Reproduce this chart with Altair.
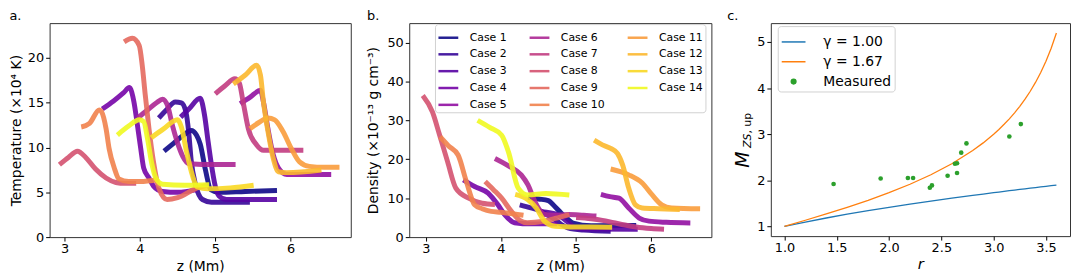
import altair as alt
import pandas as pd

FONT = "DejaVu Sans"

cases = [f"Case {i}" for i in range(1, 15)]
case_colors = ["#0d0887", "#350598", "#5702a3", "#7504a7", "#920fa2", "#ac2693", "#c23c81",
               "#d45270", "#e4695e", "#f1824d", "#f99c3c", "#fcb82e", "#f9d824", "#f0f921"]

# Panel a: temperature profiles (x 1e4 K) vs z (Mm)
temp_z = [
    [4.32, 4.45, 4.58, 4.68, 4.75, 4.80, 4.87, 4.94, 5.05, 5.4, 5.82],
    [4.25, 4.35, 4.47, 4.55, 4.61, 4.65, 4.68, 4.74, 4.83, 4.95, 5.46],
    [4.54, 4.65, 4.80, 4.86, 4.90, 4.94, 5.0, 5.05, 5.15, 5.82],
    [3.50, 3.65, 3.78, 3.86, 3.92, 3.96, 4.01, 4.05, 4.12, 4.18, 4.3, 4.5, 4.75],
    [5.33, 5.46, 5.60, 5.64, 5.70, 5.77, 5.84, 5.95, 6.2, 6.54],
    [3.97, 4.1, 4.22, 4.3, 4.37, 4.43, 4.50, 4.57, 4.65, 5.0, 5.27],
    [5.0, 5.13, 5.26, 5.32, 5.37, 5.44, 5.55, 5.64, 5.9, 6.17],
    [2.93, 3.05, 3.17, 3.28, 3.41, 3.55, 3.68, 3.8, 3.95],
    [3.79, 3.90, 3.99, 4.03, 4.07, 4.12, 4.18, 4.25, 4.36, 4.5, 4.76, 4.9],
    [3.22, 3.33, 3.46, 3.49, 3.55, 3.59, 3.66, 3.72, 3.85, 4.0, 4.24],
    [5.46, 5.58, 5.70, 5.79, 5.90, 6.01, 6.12, 6.25, 6.45, 6.65],
    [5.24, 5.4, 5.55, 5.60, 5.64, 5.70, 5.77, 5.84, 5.95, 6.41],
    [4.15, 4.3, 4.5, 4.55, 4.62, 4.70, 4.76, 4.9, 5.2, 5.51],
    [3.70, 3.85, 3.99, 4.05, 4.10, 4.16, 4.21, 4.3, 4.6, 4.92],
]
temp_T = [
    [9.6, 10.5, 11.4, 11.9, 11.4, 10.4, 7.5, 5.3, 5.0, 5.1, 5.2],
    [13.3, 14.2, 15.1, 15.0, 14.0, 11.5, 8.6, 5.8, 4.2, 3.9, 3.9],
    [13.4, 14.3, 15.5, 13.5, 11.0, 8.6, 5.7, 4.6, 4.2, 4.2],
    [14.3, 15.2, 16.1, 16.7, 15.1, 12.9, 9.9, 7.7, 6.6, 5.7, 5.1, 5.0, 5.3],
    [14.9, 15.6, 16.4, 15.1, 12.1, 9.2, 7.7, 7.0, 7.0, 7.0],
    [13.3, 14.2, 15.0, 15.4, 14.6, 12.5, 10.5, 9.0, 8.2, 8.1, 8.1],
    [16.0, 16.9, 17.7, 17.2, 15.1, 12.1, 10.3, 9.7, 9.7, 9.7],
    [8.1, 8.9, 9.6, 8.9, 7.6, 6.6, 6.1, 6.0, 6.0],
    [21.8, 22.2, 21.4, 19.2, 15.9, 12.1, 8.4, 5.5, 4.2, 4.4, 5.5, 5.8],
    [12.3, 12.7, 14.2, 14.0, 12.1, 9.9, 7.7, 6.5, 6.2, 6.2, 6.4],
    [12.1, 12.8, 13.3, 13.1, 11.8, 9.9, 8.4, 7.9, 7.8, 7.8],
    [17.1, 18.1, 19.2, 18.1, 15.1, 11.8, 8.8, 7.3, 7.2, 7.5],
    [11.1, 12.0, 13.1, 12.3, 9.5, 6.8, 5.6, 5.4, 5.5, 5.8],
    [11.4, 12.4, 13.1, 12.9, 11.0, 8.1, 6.6, 5.9, 5.8, 5.85],
]

# Panel b: density profiles (x 1e-13 g cm^-3) vs z (Mm)
dens_z = [
    [4.36, 4.5, 4.63, 4.72, 4.80, 4.88, 4.96, 5.2, 5.8],
    [4.25, 4.4, 4.54, 4.63, 4.72, 4.80, 4.89, 5.1, 5.46],
    [4.54, 4.75, 4.88, 4.98, 5.1, 5.82],
    [3.50, 3.65, 3.83, 3.96, 4.05, 4.18, 4.4, 4.75],
    [5.33, 5.45, 5.57, 5.70, 5.84, 5.97, 6.2, 6.52],
    [3.92, 4.1, 4.27, 4.36, 4.45, 4.58, 4.7, 4.9, 5.1, 5.27],
    [5.0, 5.2, 5.35, 5.5, 5.65, 5.8, 6.0, 6.17],
    [2.96, 3.09, 3.18, 3.29, 3.40, 3.57, 3.75, 3.92],
    [3.79, 3.9, 4.01, 4.14, 4.25, 4.35, 4.55, 4.72, 4.91],
    [3.19, 3.3, 3.43, 3.54, 3.65, 3.75, 3.87, 4.0, 4.15, 4.3],
    [5.46, 5.70, 5.88, 6.01, 6.14, 6.27, 6.65],
    [5.24, 5.35, 5.46, 5.55, 5.62, 5.70, 5.79, 5.88, 6.1, 6.38],
    [4.19, 4.36, 4.47, 4.58, 4.72, 5.0, 5.48],
    [3.69, 3.85, 4.01, 4.10, 4.23, 4.36, 4.6, 4.91],
]
dens_rho = [
    [10.2, 9.8, 9.4, 7.8, 6.2, 4.8, 3.6, 2.9, 3.0],
    [8.3, 7.5, 6.6, 5.6, 4.5, 3.3, 2.4, 1.8, 1.5],
    [6.5, 5.8, 4.0, 2.5, 2.1, 2.0],
    [14.7, 13.0, 11.3, 8.3, 5.8, 3.7, 3.4, 3.4],
    [11.0, 10.4, 10.0, 7.5, 4.9, 4.1, 3.8, 3.65],
    [20.2, 18.3, 16.0, 13.4, 9.2, 5.8, 5.6, 5.8, 5.6, 5.4],
    [5.0, 4.7, 4.3, 3.7, 3.1, 2.6, 2.2, 2.0],
    [36.4, 32.1, 26.5, 19.4, 12.6, 10.0, 8.7, 8.4],
    [14.3, 12.2, 10.0, 6.6, 4.3, 3.7, 4.0, 4.8, 5.8],
    [25.8, 23.5, 21.1, 14.3, 8.3, 7.3, 6.6, 6.4, 6.0, 5.6],
    [17.5, 16.0, 13.9, 10.9, 8.3, 7.5, 7.3],
    [24.9, 23.7, 22.8, 21.5, 18.5, 12.6, 8.3, 7.5, 7.3, 7.1],
    [11.0, 9.6, 7.5, 4.1, 2.8, 2.6, 2.55],
    [30.0, 28.2, 26.2, 21.9, 12.6, 10.8, 11.2, 10.8],
]

# Panel c: Mach number vs compression ratio
r_theory = [1.0, 1.2, 1.4, 1.6, 1.8, 2.0, 2.2, 2.4, 2.6, 2.8, 2.9, 3.0, 3.05, 3.1, 3.15,
            3.2, 3.25, 3.3, 3.35, 3.4, 3.45, 3.5, 3.55, 3.6]
M_gamma100 = [1.0, 1.095, 1.183, 1.265, 1.342, 1.414, 1.483, 1.549, 1.612, 1.673, 1.703,
              1.732, 1.746, 1.761, 1.775, 1.789, 1.803, 1.817, 1.830, 1.844, 1.857, 1.871,
              1.884, 1.897]
M_gamma167 = [1.0, 1.134, 1.271, 1.414, 1.567, 1.732, 1.915, 2.121, 2.360, 2.646, 2.812,
              3.0, 3.104, 3.215, 3.334, 3.464, 3.606, 3.761, 3.932, 4.123, 4.338, 4.583,
              4.865, 5.196]
r_measured = [1.47, 1.92, 2.18, 2.23, 2.39, 2.41, 2.56, 2.63, 2.65, 2.65, 2.69, 2.74, 3.15, 3.26]
M_measured = [1.92, 2.04, 2.05, 2.05, 1.84, 1.89, 2.10, 2.36, 2.37, 2.16, 2.60, 2.80, 2.95, 3.22]

series_names = ["γ = 1.00", "γ = 1.67", "Measured"]
series_colors = ["#1f77b4", "#ff7f0e", "#2ca02c"]

# ---------- tables ----------
def long_table(zs_list, vs_list, vname):
    rows = []
    for c, zs, vs in zip(cases, zs_list, vs_list):
        for z, v in zip(zs, vs):
            rows.append({"case": c, "z": z, vname: v})
    return pd.DataFrame(rows)

df_T = long_table(temp_z, temp_T, "T")
df_rho = long_table(dens_z, dens_rho, "rho")

df_theory = pd.DataFrame(
    [{"r": r, "M": m, "series": series_names[0]} for r, m in zip(r_theory, M_gamma100)]
    + [{"r": r, "M": m, "series": series_names[1]} for r, m in zip(r_theory, M_gamma167)]
)
df_meas = pd.DataFrame({"r": r_measured, "M": M_measured, "series": series_names[2]})

W1, W2, W3, H = 304, 305, 302, 216

case_scale = alt.Scale(domain=cases, range=case_colors)

def ax(values, title, fmt=None, **kw):
    args = dict(values=values, title=title, grid=False, domain=False, tickSize=4,
                tickColor="#000", labelColor="#000", titleColor="#000", labelFontSize=13,
                titleFontSize=14, labelPadding=2, titleFontWeight="normal", labelFont=FONT,
                titleFont=FONT)
    if fmt:
        args["format"] = fmt
    args.update(kw)
    return alt.Axis(**args)

def ptitle(t):
    return alt.TitleParams(t, anchor="start", fontSize=13, fontWeight="normal", offset=0,
                           font=FONT, color="#000")

panel_a = alt.Chart(df_T).mark_line(strokeWidth=5, opacity=0.9, interpolate="monotone").encode(
    x=alt.X("z:Q", scale=alt.Scale(domain=[2.8, 6.8], nice=False),
            axis=ax([3, 4, 5, 6], "z (Mm)", titlePadding=4)),
    y=alt.Y("T:Q", scale=alt.Scale(domain=[0, 23.9], nice=False),
            axis=ax([0, 5, 10, 15, 20], "Temperature (×10⁴ K)", titlePadding=4)),
    color=alt.Color("case:N", scale=case_scale, legend=None),
).properties(width=W1, height=H, title=ptitle("a."))

legend_b = alt.Legend(
    title=None, orient="none", legendX=26, legendY=1, columns=3,
    symbolType="stroke", symbolSize=400, symbolStrokeWidth=2.5, labelFontSize=11,
    labelFont=FONT, labelColor="#000", labelOffset=10, columnPadding=17, rowPadding=-7,
    padding=2, strokeColor="#d0d0d0", fillColor="white", cornerRadius=3,
)

panel_b = alt.Chart(df_rho).mark_line(strokeWidth=5, opacity=0.9, interpolate="monotone").encode(
    x=alt.X("z:Q", scale=alt.Scale(domain=[2.78, 6.8], nice=False),
            axis=ax([3, 4, 5, 6], "z (Mm)", titlePadding=4)),
    y=alt.Y("rho:Q", scale=alt.Scale(domain=[0, 55], nice=False),
            axis=ax([0, 10, 20, 30, 40, 50], "Density (×10⁻¹³ g cm⁻³)", titlePadding=6)),
    color=alt.Color("case:N", scale=case_scale, legend=legend_b),
).properties(width=W2, height=H, title=ptitle("b."))

series_scale = alt.Scale(domain=series_names, range=series_colors)
legend_c = alt.Legend(
    title=None, orient="none", legendX=7, legendY=3,
    symbolType={"expr": "datum.value === 'Measured' ? 'circle' : 'stroke'"},
    symbolSize={"expr": "datum.value === 'Measured' ? 22 : 576"},
    symbolStrokeColor={"expr": "datum.value === 'γ = 1.00' ? '#1f77b4' : (datum.value === 'γ = 1.67' ? '#ff7f0e' : '#2ca02c')"},
    symbolFillColor={"expr": "datum.value === 'Measured' ? '#2ca02c' : 'transparent'"},
    symbolStrokeWidth=1.5, labelFontSize=14, labelFont=FONT, labelColor="#000",
    labelOffset=17, rowPadding=-5, padding=3, strokeColor="#d0d0d0", fillColor="white",
    cornerRadius=3,
)

xc = alt.X("r:Q", scale=alt.Scale(domain=[0.87, 3.73], nice=False),
           axis=ax([1.0, 1.5, 2.0, 2.5, 3.0, 3.5], "r", ".1f", titleFontStyle="italic",
                   titlePadding=2, titleFontSize=15))
yc = alt.Y("M:Q", scale=alt.Scale(domain=[0.79, 5.41], nice=False),
           axis=ax([1, 2, 3, 4, 5], None, minExtent=18))

lines_c = alt.Chart(df_theory).mark_line(strokeWidth=1.3).encode(
    x=xc, y=yc, color=alt.Color("series:N", scale=series_scale, legend=legend_c))
points_c = alt.Chart(df_meas).mark_circle(size=22, opacity=1).encode(
    x=xc, y=yc, color=alt.Color("series:N", scale=series_scale, legend=legend_c))

def vtext(txt, x, y, size, style, opacity=1.0):
    return alt.Chart(pd.DataFrame({"t": [txt]})).mark_text(
        angle=270, align="left", baseline="middle", fontSize=size, fontStyle=style,
        font=FONT, color="#000", opacity=opacity).encode(
        text="t:N", x=alt.value(x), y=alt.value(y))

ylab_pad = vtext("M", -35, 146, 18, "normal", opacity=0.0)
ylab_M = vtext("M", -28, 146, 19, "italic")
ylab_sub1 = vtext("ZS", -23, 126, 11, "italic")
ylab_sub2 = vtext(", up", -23, 111.5, 11, "normal")

panel_c = alt.layer(lines_c, points_c, ylab_pad, ylab_M, ylab_sub1, ylab_sub2).properties(
    width=W3, height=215, title=ptitle("c."))

chart = alt.hconcat(panel_a, panel_b, panel_c, spacing=14).resolve_scale(
    color="independent").resolve_legend(color="independent").configure(
    padding=0, font=FONT).configure_view(stroke="#333", strokeWidth=1)

chart.save("out.html", embed_options={"renderer": "svg", "actions": False})
